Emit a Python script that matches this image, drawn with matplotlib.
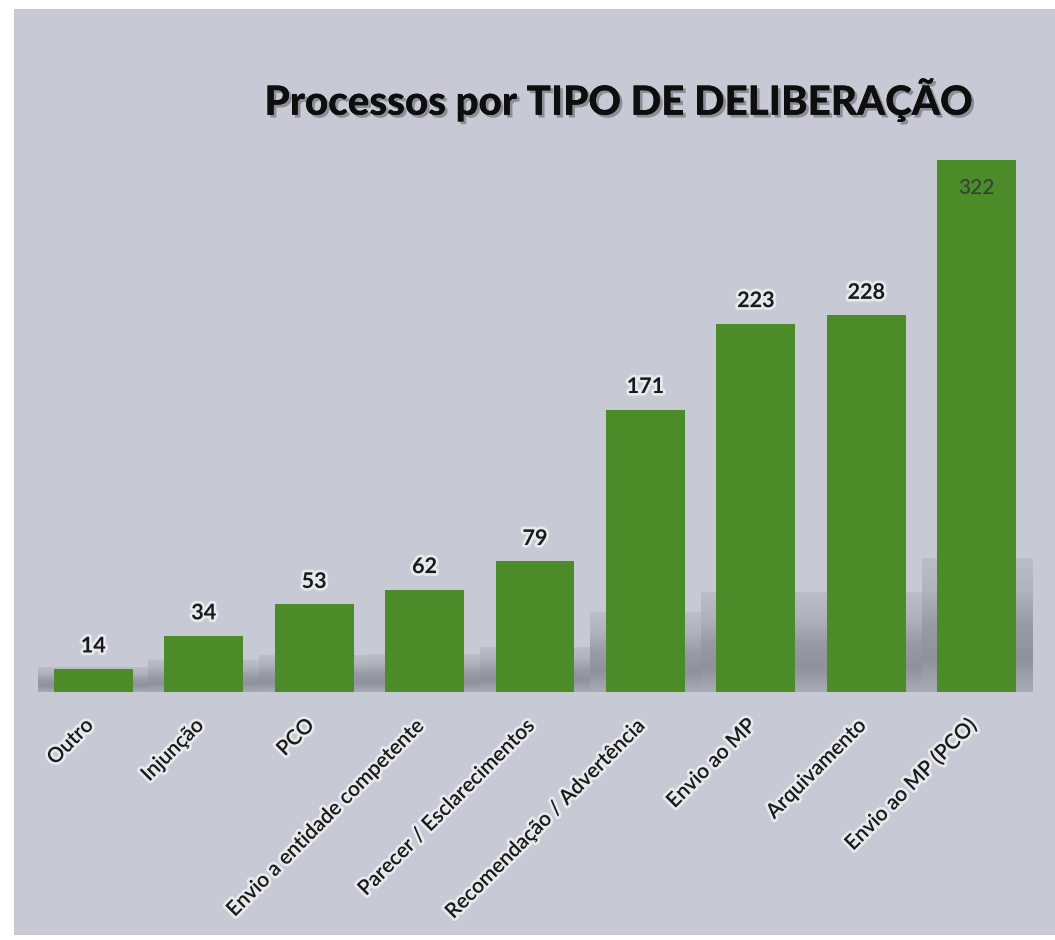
import numpy as np
import matplotlib
matplotlib.use('Agg')
import matplotlib.pyplot as plt
import matplotlib.patheffects as pe
from matplotlib.patches import Rectangle
from matplotlib.colors import LinearSegmentedColormap

# ___data___
categorias = ['Outro', 'Injunção', 'PCO', 'Envio a entidade competente',
              'Parecer / Esclarecimentos', 'Recomendação / Advertência',
              'Envio ao MP', 'Arquivamento', 'Envio ao MP (PCO)']
processos = [14, 34, 53, 62, 79, 171, 223, 228, 322]
# grey "reflection" bars drawn behind the green ones
reflexo = [15, 19, 22, 23, 27, 48, 60, 60, 81]

titulo = 'Processos por TIPO DE DELIBERAÇÃO'

W, H = 1055, 940
fig = plt.figure(figsize=(W / 100, H / 100), dpi=100)
fig.patch.set_facecolor('white')

# grey panel (scan has a white margin left/top/bottom)
fig.patches.append(Rectangle((14 / W, 5 / H), 1 - 14 / W, 926 / H,
                             transform=fig.transFigure, facecolor='#C7CAD4',
                             edgecolor='none', zorder=-5))

# axes: x -0.5..8.5 over px 38..1032, baseline at px 692 from top
ax = fig.add_axes([38 / W, (H - 692) / H, (1032 - 38) / W, 340 * 1.652 / H])
ax.set_facecolor('none')
ax.set_zorder(2)
x = np.arange(len(categorias))

# shadow bars with a vertical gradient
cmap_sombra = LinearSegmentedColormap.from_list(
    'sombra', ['#A8AAB5', '#8F919D', '#999BA7', '#B0B2BD', '#BBBDC7'])
grad = np.linspace(0, 1, 100).reshape(-1, 1)
for xi, h in zip(x, reflexo):
    ax.imshow(grad, extent=(xi - 0.5, xi + 0.5, 0, h), origin='lower',
              cmap=cmap_sombra, aspect='auto', zorder=1, interpolation='bilinear')

ax.bar(x, processos, width=0.715, color='#4C8C28', zorder=2)

brilho = [pe.withStroke(linewidth=4, foreground='white', alpha=0.6)]
for xi, v in zip(x, processos):
    if v == max(processos):
        # largest value is written inside the bar
        ax.annotate(str(v), (xi, v), xytext=(0, -28),
                    textcoords='offset pixels', ha='center', va='center',
                    fontsize=15, family='Lato', fontweight='medium',
                    color='#3A3F38', zorder=3)
    else:
        ax.annotate(str(v), (xi, v), xytext=(0, 23), textcoords='offset pixels',
                    ha='center', va='center', fontsize=15.5, family='Lato',
                    fontweight='bold', color='#1A1A1A', zorder=3,
                    path_effects=brilho)

for xi, nome in zip(x, categorias):
    ax.annotate(nome, (xi, 0), xytext=(-3, -30), textcoords='offset pixels',
                ha='right', va='center', rotation=45, rotation_mode='anchor',
                fontsize=15, family='Lato', fontweight='semibold',
                color='#1A1A1A', path_effects=brilho, annotation_clip=False)

ax.set_xlim(-0.5, 8.5)
ax.set_ylim(0, 340)
ax.axis('off')

fig.text(618 / W, 1 - 100 / H, titulo, ha='center', va='center',
         fontsize=29, family='Lato', fontweight='black', color='#0E0E0E',
         path_effects=[pe.withSimplePatchShadow(offset=(2, -2), alpha=0.3),
                       pe.Normal()])

fig.savefig('out.png', dpi=100)
